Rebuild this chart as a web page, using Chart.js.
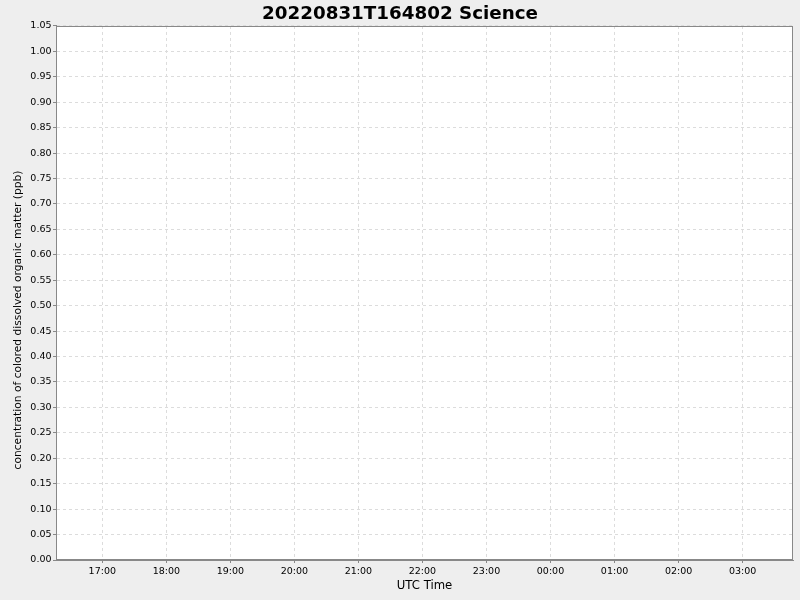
<!DOCTYPE html>
<html>
<head>
<meta charset="utf-8">
<script src="https://cdn.jsdelivr.net/npm/chart.js@4.4.1/dist/chart.umd.min.js"></script>
<style>
html,body{margin:0;padding:0;background:#eeeeee;}
#wrap{width:800px;height:600px;}
</style>
</head>
<body>
<div id="wrap"><canvas id="c" width="800" height="600"></canvas></div>
<script>
// Data (the reference chart contains no data points)
const chartTitle = "20220831T164802 Science";
const xAxisLabel = "UTC Time";
const yAxisLabel = "concentration of colored dissolved organic matter (ppb)";
const timeValues = [];          // hours since 00:00 of 2022-08-31
const cdomValues = [];          // ppb
const xMinHours = 16.277;       // ~16:17
const xMaxHours = 27.787;       // ~03:47 next day
const yMin = 0.0;
const yMax = 1.05;
const yStep = 0.05;
const xTickHours = [17,18,19,20,21,22,23,24,25,26,27];
const xTickLabels = ["17:00","18:00","19:00","20:00","21:00","22:00","23:00","00:00","01:00","02:00","03:00"];

const points = timeValues.map((t,i)=>({x:t,y:cdomValues[i]}));
const font = 'DejaVu Sans';

const bgPlugin = {
  id:'bg',
  beforeDraw(chart){
    const {ctx, chartArea:a} = chart;
    ctx.save();
    ctx.fillStyle = '#eeeeee';
    ctx.fillRect(0,0,chart.width,chart.height);
    ctx.fillStyle = '#ffffff';
    ctx.fillRect(a.left,a.top,a.right-a.left,a.bottom-a.top);
    ctx.restore();
  },
  afterDraw(chart){
    const {ctx, chartArea:a} = chart;
    ctx.save();
    ctx.strokeStyle = '#888888';
    ctx.lineWidth = 1;
    ctx.strokeRect(Math.round(a.left)+0.5, Math.round(a.top)+0.5, Math.round(a.right-a.left)-1, Math.round(a.bottom-a.top)-1);
    // y axis title
    ctx.translate(18, 320);
    ctx.rotate(-Math.PI/2);
    ctx.fillStyle = '#000';
    ctx.font = '10.7px "DejaVu Sans"';
    ctx.textAlign = 'center';
    ctx.textBaseline = 'middle';
    ctx.fillText(yAxisLabel, 0, 0);
    ctx.restore();
  }
};

new Chart(document.getElementById('c'), {
  type:'scatter',
  data:{datasets:[{label:'CDOM', data:points, borderColor:'#1f77b4', backgroundColor:'#1f77b4', pointRadius:2}]},
  options:{
    responsive:false,
    animation:false,
    layout:{padding:0},
    plugins:{
      legend:{display:false},
      tooltip:{enabled:false},
      title:{display:true,text:chartTitle,color:'#000',font:{family:font,size:18.3,weight:'bold',lineHeight:1.2},padding:{top:3,bottom:1}}
    },
    scales:{
      x:{
        type:'linear', min:xMinHours, max:xMaxHours,
        afterBuildTicks(scale){ scale.ticks = xTickHours.map(v=>({value:v})); },
        afterFit(scale){ scale.height = 40; },
        ticks:{
          autoSkip:false, maxRotation:0, padding:3,
          color:'#000', font:{family:font,size:9.5},
          callback(v){ const i = xTickHours.indexOf(v); return i>=0 ? xTickLabels[i] : ''; }
        },
        grid:{color:'#dcdcdc', tickLength:3, tickColor:'#888888', tickBorderDash:[]},
        border:{display:true,color:'#888888',dash:[3,3]},
        title:{display:true,text:xAxisLabel,color:'#000',font:{family:font,size:11.7},padding:{top:2,bottom:7}}
      },
      y:{
        min:yMin, max:yMax,
        afterFit(scale){ scale.width = 56; },
        ticks:{
          stepSize:yStep, autoSkip:false, padding:1.5,
          color:'#000', font:{family:font,size:9.5},
          callback(v){ return Number(v).toFixed(2); }
        },
        grid:{color:'#dcdcdc', tickLength:3, tickColor:'#888888', tickBorderDash:[]},
        border:{display:true,color:'#888888',dash:[3,3]},
        title:{display:false}
      },
      yRight:{
        position:'right', min:yMin, max:yMax,
        afterFit(scale){ scale.width = 7; },
        ticks:{display:false},
        grid:{display:false},
        border:{display:false},
        title:{display:false}
      }
    }
  },
  plugins:[bgPlugin]
});
</script>
</body>
</html>
